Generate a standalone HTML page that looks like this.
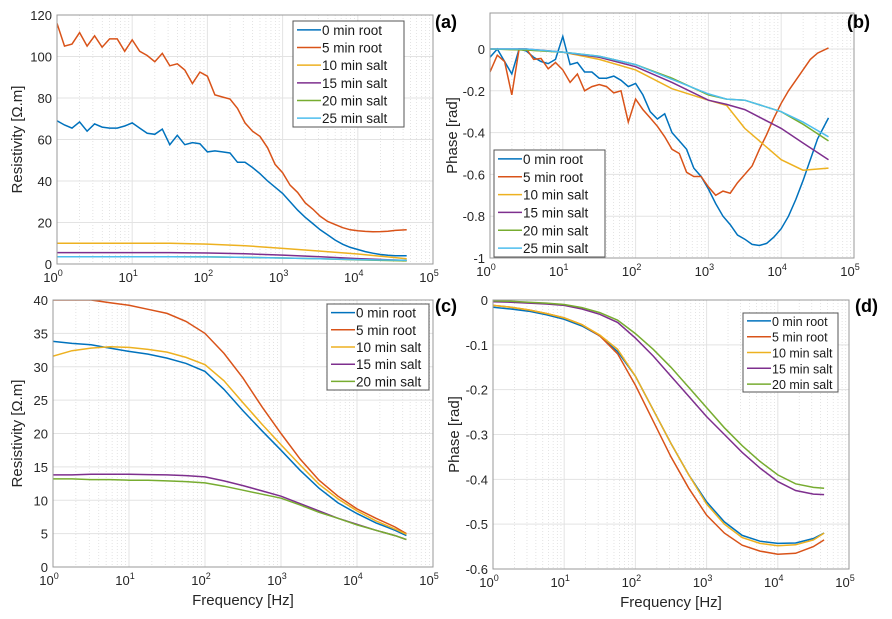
<!DOCTYPE html>
<html><head><meta charset="utf-8"><style>
body{margin:0;background:#fff;}
svg{display:block;font-family:"Liberation Sans",sans-serif;}
</style></head><body>
<svg id="chart" width="892" height="619" viewBox="0 0 892 619" xmlns="http://www.w3.org/2000/svg"></svg>
<script>
// ---- data ----
const logFreqFine = [0,0.1,0.2,0.3,0.4,0.5,0.6,0.7,0.8,0.9,1,1.1,1.2,1.3,1.4,1.5,1.6,1.7,1.8,1.9,2,2.1,2.2,2.3,2.4,2.5,2.6,2.7,2.8,2.9,3,3.1,3.2,3.3,3.4,3.5,3.6,3.7,3.8,3.9,4,4.1,4.2,4.3,4.4,4.5,4.65];
const logFreqA = [0,0.5,1,1.5,2,2.5,3,3.5,4,4.65];
const logFreqB = [0,0.5,1,1.5,2,2.5,3,3.25,3.5,4,4.3,4.65];
const logFreqSmooth = [0,0.25,0.5,0.75,1,1.25,1.5,1.75,2,2.25,2.5,2.75,3,3.25,3.5,3.75,4,4.25,4.5,4.65];
const seriesNames6 = ["0 min root","5 min root","10 min salt","15 min salt","20 min salt","25 min salt"];
const seriesNames5 = ["0 min root","5 min root","10 min salt","15 min salt","20 min salt"];
// panel a
const aRoot0 = [69,67,65.5,68.5,64,67.5,66,65.5,65.5,66.5,68,65.5,63,62.5,65,57.5,62,57.5,58.5,58,54,54.5,54,53.5,49,49,46.5,43.5,40,37,34,30,26,22.5,19.5,16.5,14,11.5,9.5,8,7,6,5.2,4.6,4.2,4,4];
const aRoot5 = [116,105,106,111.5,105,110,104.5,108.5,108.5,102.5,108,102.5,100.5,97.5,101.5,95.5,96.5,93.5,87,92.5,90.5,81.5,80.5,79.5,75,68,64,61.5,56,48,44,38,34.5,29.5,26.5,23,20.5,19,17.5,16.5,16,15.7,15.5,15.6,15.8,16.2,16.5];
const aSalt10 = [10,10,10,10,9.6,8.8,7.5,6.2,4.8,2.5];
const aSalt15 = [5.5,5.5,5.5,5.5,5.3,4.9,4.3,3.5,2.6,1.7];
const aSalt20 = [3.5,3.5,3.5,3.5,3.4,3.2,2.9,2.5,2,1.5];
const aSalt25 = [3.5,3.5,3.5,3.5,3.4,3.2,2.9,2.5,2.1,1.8];
// panel b
const bRoot0 = [-0.04,0,-0.06,-0.12,0,-0.01,-0.04,-0.06,-0.07,-0.05,0.06,-0.075,-0.065,-0.11,-0.11,-0.14,-0.14,-0.13,-0.15,-0.18,-0.165,-0.22,-0.30,-0.335,-0.31,-0.40,-0.44,-0.48,-0.57,-0.61,-0.67,-0.74,-0.80,-0.84,-0.89,-0.91,-0.935,-0.94,-0.93,-0.90,-0.86,-0.80,-0.72,-0.63,-0.53,-0.43,-0.33];
const bRoot5 = [-0.11,-0.03,-0.06,-0.22,0,0,-0.05,-0.045,-0.095,-0.065,-0.1,-0.16,-0.12,-0.2,-0.18,-0.17,-0.18,-0.21,-0.2,-0.35,-0.24,-0.29,-0.33,-0.37,-0.42,-0.48,-0.5,-0.59,-0.61,-0.61,-0.66,-0.7,-0.68,-0.69,-0.64,-0.6,-0.56,-0.48,-0.41,-0.33,-0.26,-0.2,-0.15,-0.1,-0.05,-0.02,0.005];
const bSalt10 = [0,-0.005,-0.015,-0.05,-0.10,-0.19,-0.245,-0.27,-0.38,-0.53,-0.58,-0.57];
const bSalt15 = [0,0,-0.015,-0.04,-0.085,-0.16,-0.245,-0.265,-0.29,-0.38,-0.45,-0.53];
const bSalt20 = [0,-0.005,-0.015,-0.035,-0.075,-0.14,-0.22,-0.24,-0.245,-0.30,-0.36,-0.44];
const bSalt25 = [0,0,-0.015,-0.035,-0.075,-0.145,-0.215,-0.24,-0.245,-0.30,-0.35,-0.42];
// panel c
const cRoot0 = [33.8,33.5,33.3,32.8,32.3,31.9,31.3,30.5,29.3,26.6,23.4,20.4,17.5,14.5,11.8,9.6,8,6.6,5.5,4.7];
const cRoot5 = [40,40,40,39.6,39.2,38.6,38,36.8,35,32,28.3,24,20,16.2,13,10.6,8.7,7.3,6,5];
const cSalt10 = [31.6,32.4,32.8,33,32.9,32.6,32.2,31.4,30.3,27.9,24.6,21.4,18.3,15.3,12.4,10.2,8.4,6.9,5.7,4.9];
const cSalt15 = [13.8,13.8,13.9,13.9,13.9,13.85,13.8,13.7,13.5,12.9,12.2,11.4,10.6,9.5,8.4,7.3,6.4,5.5,4.7,4.1];
const cSalt20 = [13.2,13.2,13.1,13.1,13,13,12.9,12.8,12.6,12.1,11.5,10.9,10.3,9.3,8.2,7.3,6.3,5.5,4.7,4.1];
// panel d
const dRoot0 = [-0.016,-0.02,-0.025,-0.033,-0.043,-0.058,-0.08,-0.115,-0.17,-0.245,-0.32,-0.39,-0.45,-0.495,-0.525,-0.538,-0.543,-0.542,-0.532,-0.52];
const dRoot5 = [-0.012,-0.016,-0.022,-0.03,-0.04,-0.055,-0.08,-0.12,-0.19,-0.27,-0.35,-0.42,-0.48,-0.52,-0.547,-0.56,-0.567,-0.565,-0.55,-0.535];
const dSalt10 = [-0.012,-0.016,-0.022,-0.03,-0.04,-0.055,-0.078,-0.11,-0.17,-0.245,-0.32,-0.39,-0.455,-0.5,-0.53,-0.543,-0.548,-0.546,-0.535,-0.52];
const dSalt15 = [-0.004,-0.005,-0.007,-0.009,-0.012,-0.02,-0.032,-0.05,-0.085,-0.125,-0.17,-0.215,-0.26,-0.3,-0.34,-0.375,-0.405,-0.425,-0.433,-0.434];
const dSalt20 = [-0.002,-0.003,-0.005,-0.007,-0.01,-0.017,-0.028,-0.045,-0.075,-0.11,-0.15,-0.195,-0.24,-0.285,-0.325,-0.36,-0.39,-0.41,-0.418,-0.42];
const xTickExps = [0,1,2,3,4,5];
const yTicksA = [0,20,40,60,80,100,120];
const yTicksB = [-1,-0.8,-0.6,-0.4,-0.2,0];
const yTicksC = [0,5,10,15,20,25,30,35,40];
const yTicksD = [-0.6,-0.5,-0.4,-0.3,-0.2,-0.1,0];

const COLORS = ["#0072BD","#D95319","#EDB120","#7E2F8E","#77AC30","#4DBEEE"];
const NS = "http://www.w3.org/2000/svg";
const svg = document.getElementById('chart');
function mk(tag, attrs, parent){const e=document.createElementNS(NS,tag);for(const k in attrs)e.setAttribute(k,attrs[k]);(parent||svg).appendChild(e);return e;}

function panel(cfg){
  const g = mk('g',{});
  
  
  const {L,R,T,B,ymin,ymax} = cfg;
  const xs = d => L + (R-L)*d/5;
  const ys = v => B - (B-T)*(v-ymin)/(ymax-ymin);
  mk('rect',{x:L,y:T,width:R-L,height:B-T,fill:'#fff'},g);
  for(let e=0;e<5;e++) for(let m=2;m<10;m++){
    const x = xs(e+Math.log10(m));
    const ln = mk('line',{x1:x,x2:x,y1:T,y2:B,stroke:'#d8d8d8','stroke-width':0.7,'stroke-dasharray':'1,2'},g);
    
    
  }
  xTickExps.forEach(e=>{
    const x = xs(e);
    const ln = mk('line',{x1:x,x2:x,y1:T,y2:B,stroke:'#e3e3e3','stroke-width':1},g);
    
    
    const t = mk('text',{x:x-4,y:B+18,'font-size':13,fill:'#262626','text-anchor':'middle'},g);
    
    
    t.textContent='10';
    const s = mk('tspan',{dy:-6,'font-size':9},t); s.textContent=String(e);
  });
  cfg.yTicks.forEach(v=>{
    const y = ys(v);
    const ln = mk('line',{x1:L,x2:R,y1:y,y2:y,stroke:'#e3e3e3','stroke-width':1},g);
    
    
    const t = mk('text',{x:L-5,y:y+5,'font-size':13,fill:'#262626','text-anchor':'end'},g);
    
    
    t.textContent=String(v);
  });
  const clip = mk('clipPath',{id:cfg.name+'-clip'},g);
  mk('rect',{x:L,y:T,width:R-L,height:B-T},clip);
  cfg.series.forEach((s,i)=>{
    const pts = s.y.map((v,j)=>xs(s.x[j]).toFixed(1)+','+ys(v).toFixed(1)).join(' ');
    const p = mk('polyline',{points:pts,fill:'none',stroke:COLORS[i],'stroke-width':1.5,'clip-path':'url(#'+cfg.name+'-clip)'},g);
    
    
  });
  const box = mk('rect',{x:L,y:T,width:R-L,height:B-T,fill:'none',stroke:'#999','stroke-width':1},g);
  
  
  const yl = mk('text',{x:cfg.ylx,y:(T+B)/2,'font-size':15,fill:'#262626','text-anchor':'middle',transform:`rotate(-90 ${cfg.ylx} ${(T+B)/2})`},g);
  
  
  yl.textContent=cfg.ylabel;
  if(cfg.xlabel){
    const xl = mk('text',{x:(L+R)/2,y:B+38,'font-size':15,fill:'#262626','text-anchor':'middle'},g);
    
    
    xl.textContent=cfg.xlabel;
  }
  const lg = cfg.leg;
  const lgG = mk('g',{},g);
  
  
  mk('rect',{x:lg.x,y:lg.y,width:lg.w,height:lg.h,fill:'#fff',stroke:'#555','stroke-width':1},lgG);
  const rh = lg.h/cfg.labels.length;
  cfg.labels.forEach((lab,i)=>{
    const cy = lg.y + rh*(i+0.5);
    const en = mk('g',{},lgG);
    
    
    mk('line',{x1:lg.x+4,x2:lg.x+28,y1:cy,y2:cy,stroke:COLORS[i],'stroke-width':1.5},en);
    const t = mk('text',{x:lg.x+29,y:cy+5,'font-size':lg.fs,fill:'#1a1a1a'},en);
    t.textContent=lab;
  });
  const pl = mk('text',{x:cfg.tag[0],y:cfg.tag[1],'font-size':18,'font-weight':'bold',fill:'#000'},g);
  
  
  pl.textContent=cfg.tagText;
}

panel({name:'panel-a',L:57,R:433,T:15,B:264,ymin:0,ymax:120,yTicks:yTicksA,ylx:22,ylabel:'Resistivity  [Ω.m]',
  labels:seriesNames6,leg:{x:293,y:21,w:111,h:106,fs:13.5},tag:[435,28],tagText:'(a)',
  series:[{x:logFreqFine,y:aRoot0},{x:logFreqFine,y:aRoot5},{x:logFreqA,y:aSalt10},{x:logFreqA,y:aSalt15},{x:logFreqA,y:aSalt20},{x:logFreqA,y:aSalt25}]});
panel({name:'panel-b',L:490,R:854,T:13,B:258,ymin:-1,ymax:0.172,yTicks:yTicksB,ylx:457,ylabel:'Phase [rad]',
  labels:seriesNames6,leg:{x:494,y:150,w:111,h:107,fs:13.5},tag:[847,28],tagText:'(b)',
  series:[{x:logFreqFine,y:bRoot0},{x:logFreqFine,y:bRoot5},{x:logFreqB,y:bSalt10},{x:logFreqB,y:bSalt15},{x:logFreqB,y:bSalt20},{x:logFreqB,y:bSalt25}]});
panel({name:'panel-c',L:53,R:433,T:300,B:567,ymin:0,ymax:40,yTicks:yTicksC,ylx:22,ylabel:'Resistivity  [Ω.m]',xlabel:'Frequency [Hz]',
  labels:seriesNames5,leg:{x:327,y:304,w:102,h:86,fs:13.5},tag:[435,312],tagText:'(c)',
  series:[{x:logFreqSmooth,y:cRoot0},{x:logFreqSmooth,y:cRoot5},{x:logFreqSmooth,y:cSalt10},{x:logFreqSmooth,y:cSalt15},{x:logFreqSmooth,y:cSalt20}]});
panel({name:'panel-d',L:493,R:849,T:300,B:569,ymin:-0.6,ymax:0,yTicks:yTicksD,ylx:459,ylabel:'Phase [rad]',xlabel:'Frequency [Hz]',
  labels:seriesNames5,leg:{x:743,y:313,w:95,h:79,fs:12.5},tag:[855,312],tagText:'(d)',
  series:[{x:logFreqSmooth,y:dRoot0},{x:logFreqSmooth,y:dRoot5},{x:logFreqSmooth,y:dSalt10},{x:logFreqSmooth,y:dSalt15},{x:logFreqSmooth,y:dSalt20}]});
</script>
</body></html>
